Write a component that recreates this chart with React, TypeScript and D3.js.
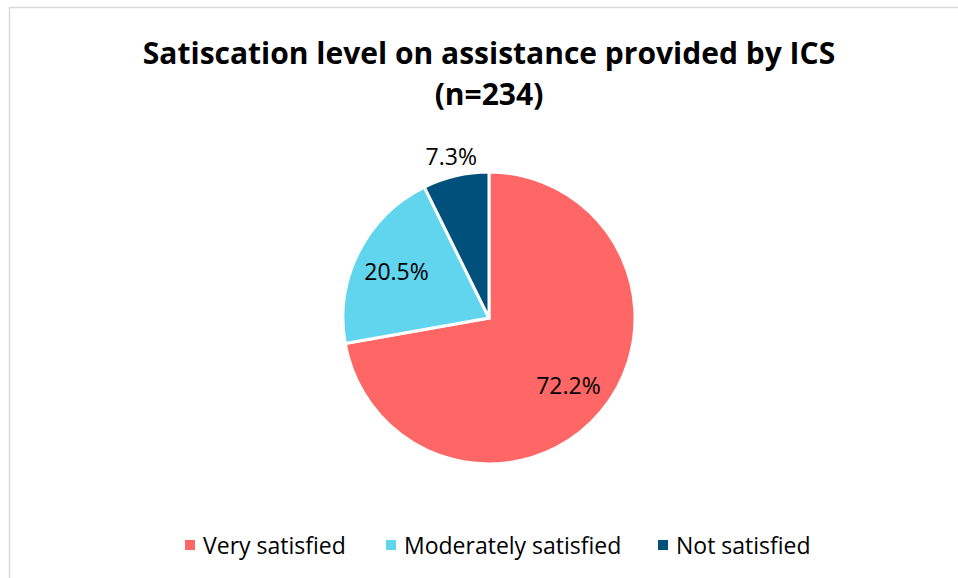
import * as d3 from "d3";

const categories = ["Very satisfied", "Moderately satisfied", "Not satisfied"];
const shares = [72.2, 20.5, 7.3];
const colors = ["#FF6666", "#61D4EE", "#00507C"];
const titleLines = ["Satiscation level on assistance provided by ICS", "(n=234)"];

const W = 958, H = 578;
const cx = 489, cy = 318, radius = 146;

const App = () => {
    const pie = d3.pie<number>().sort(null).value(d => d);
    const arcs = pie(shares);
    const arc = d3.arc<d3.PieArcDatum<number>>().innerRadius(0).outerRadius(radius);
    const labelArc = d3.arc<d3.PieArcDatum<number>>().innerRadius(radius * 1.42).outerRadius(0);
    const outerArc = d3.arc<d3.PieArcDatum<number>>().innerRadius(radius + 20).outerRadius(radius + 20);

    // legend layout (x of each marker)
    const legendX = d3.scaleOrdinal<string, number>().domain(categories).range([185, 386, 658]);

    const font = "'Open Sans', 'Noto Sans', sans-serif";

    return (
        <svg width={W} height={H} style={{ position: "absolute", left: 0, top: 0 }} fontFamily={font}>
            <rect x={9.5} y={7.5} width={W} height={H} fill="#fff" stroke="#d9d9d9" strokeWidth={1.5} />
            {titleLines.map((t, i) => (
                <text key={i} x={cx} y={64 + i * 41} textAnchor="middle" fontSize={30} fontWeight="bold" fill="#000">{t}</text>
            ))}
            <g transform={`translate(${cx},${cy})`}>
                {arcs.map((a, i) => (
                    <path key={i} d={arc(a) as string} fill={colors[i]} stroke="#fff" strokeWidth={3} />
                ))}
                {arcs.map((a, i) => {
                    const [x, y] = a.data < 10 ? outerArc.centroid(a) : labelArc.centroid(a);
                    return (
                        <text key={i} x={x} y={y} textAnchor="middle" dominantBaseline="central" fontSize={23} fill="#000">
                            {a.data.toFixed(1)}%
                        </text>
                    );
                })}
            </g>
            {categories.map((c, i) => (
                <g key={c} transform={`translate(${legendX(c)},545)`}>
                    <rect x={0} y={-5} width={10} height={10} fill={colors[i]} />
                    <text x={18} y={0} dominantBaseline="central" fontSize={23} fill="#000">{c}</text>
                </g>
            ))}
        </svg>
    );
};

export default App;
